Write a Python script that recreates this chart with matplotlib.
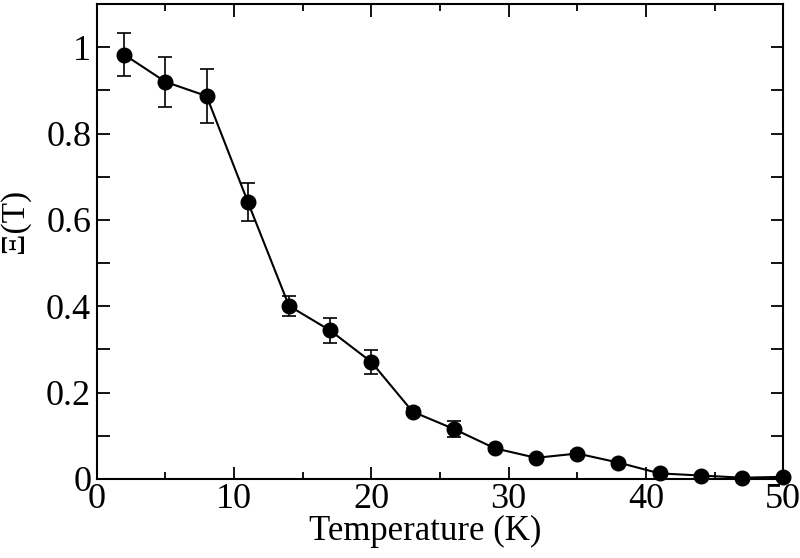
import matplotlib
matplotlib.use("Agg")
import matplotlib.pyplot as plt
from matplotlib.ticker import MultipleLocator

# temperature (K) and Xi(T) with error bars
temperature = [2, 5, 8, 11, 14, 17, 20, 23, 26, 29, 32, 35, 38, 41, 44, 47, 50]
xi = [0.983, 0.920, 0.887, 0.642, 0.401, 0.344, 0.271, 0.156, 0.116, 0.071,
      0.049, 0.059, 0.038, 0.013, 0.008, 0.003, 0.005]
xi_err = [0.050, 0.058, 0.063, 0.044, 0.024, 0.030, 0.028, 0.008, 0.018, 0.006,
          0.005, 0.005, 0.004, 0.003, 0.003, 0.002, 0.002]

plt.rcParams['font.family'] = ['Liberation Serif', 'DejaVu Serif']

fig = plt.figure(figsize=(8, 5.58), dpi=100)
ax = fig.add_axes([0.121, 0.1416, 0.858, 0.851])

ax.errorbar(temperature, xi, yerr=xi_err, color='black', lw=1.5,
            marker='o', markersize=10.5, capsize=5, elinewidth=1.2,
            capthick=1.2, clip_on=False, zorder=3)

ax.set_xlim(0, 50)
ax.set_ylim(0, 1.1)
ax.xaxis.set_major_locator(MultipleLocator(10))
ax.xaxis.set_minor_locator(MultipleLocator(5))
ax.yaxis.set_minor_locator(MultipleLocator(0.1))
ax.set_yticks([0, 0.2, 0.4, 0.6, 0.8, 1.0])
ax.set_yticklabels(['0', '0.2', '0.4', '0.6', '0.8', '1'])

ax.tick_params(which='both', direction='in', top=True, right=True,
               labelsize=26, width=1.3)
ax.tick_params(axis='x', which='major', length=9, pad=3)
ax.tick_params(axis='x', which='minor', length=5)
ax.tick_params(axis='y', which='both', length=9, pad=4)
for s in ax.spines.values():
    s.set_linewidth(1.5)

ax.set_xlabel('Temperature (K)', fontsize=25)
ax.xaxis.set_label_coords(0.478, -0.075)
ax.set_ylabel('Ξ(T)', fontsize=24)
ax.yaxis.set_label_coords(-0.098, 0.543)

plt.savefig('out.png', dpi=100)
